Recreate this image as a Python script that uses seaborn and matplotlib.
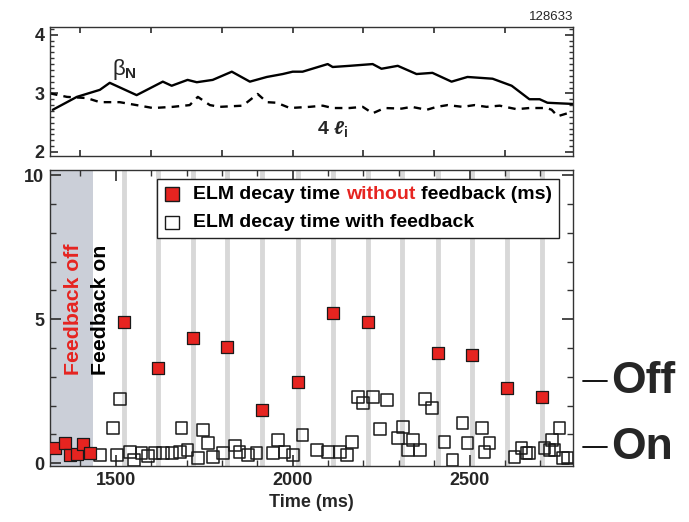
import numpy as np
import pandas as pd
import seaborn as sns
import matplotlib
matplotlib.use("Agg")
import matplotlib.pyplot as plt
from matplotlib.offsetbox import AnchoredOffsetbox, HPacker, VPacker, TextArea, DrawingArea
from matplotlib.patches import Rectangle
from matplotlib.ticker import MultipleLocator, FixedLocator
import matplotlib.transforms as mtransforms

# ---------------- data ----------------
shot_number = "128633"

beta_t = [1322, 1390, 1455, 1483, 1559, 1633, 1658, 1703, 1729, 1774, 1828, 1879, 1927,
          1972, 2000, 2028, 2099, 2113, 2161, 2226, 2251, 2297, 2350, 2395, 2449, 2494,
          2565, 2619, 2669, 2698, 2720, 2754, 2791]
beta_v = [2.72, 2.94, 3.06, 3.18, 2.97, 3.20, 3.13, 3.23, 3.19, 3.23, 3.37, 3.20, 3.28,
          3.33, 3.37, 3.37, 3.50, 3.45, 3.47, 3.50, 3.42, 3.47, 3.33, 3.35, 3.20, 3.28,
          3.25, 3.13, 2.90, 2.90, 2.84, 2.83, 2.82]

li_t = [1314, 1362, 1418, 1455, 1511, 1568, 1605, 1661, 1709, 1732, 1766, 1794, 1859,
        1901, 1927, 1955, 1992, 2048, 2085, 2113, 2161, 2198, 2226, 2260, 2308, 2336,
        2379, 2407, 2438, 2480, 2514, 2548, 2585, 2633, 2669, 2718, 2732, 2749, 2782]
li_v = [3.00, 2.94, 2.92, 2.85, 2.85, 2.79, 2.75, 2.77, 2.80, 2.94, 2.80, 2.77, 2.79,
        2.99, 2.85, 2.84, 2.75, 2.77, 2.79, 2.75, 2.75, 2.77, 2.66, 2.75, 2.74, 2.77,
        2.72, 2.77, 2.80, 2.77, 2.80, 2.77, 2.79, 2.73, 2.75, 2.75, 2.72, 2.61, 2.67]

# feedback-off windows (gray bars)
off_windows = [1522, 1620, 1718, 1815, 1913, 2015, 2113, 2212, 2310, 2410, 2508, 2606, 2705]
feedback_off_end = 1435

# ELM decay time without feedback (ms)
nofb_t = [1328, 1356, 1370, 1390, 1407, 1427,
          1522, 1620, 1718, 1815, 1913, 2015, 2113, 2212, 2410, 2508, 2606, 2705]
nofb_v = [0.52, 0.69, 0.28, 0.31, 0.66, 0.35,
          4.90, 3.30, 4.34, 4.03, 1.84, 2.81, 5.21, 4.90, 3.82, 3.75, 2.60, 2.29]

# ELM decay time with feedback
fb_t = [1455, 1492, 1503, 1511, 1540, 1551, 1573, 1590, 1610, 1633, 1658, 1681, 1686,
        1703, 1732, 1746, 1760, 1774, 1802, 1836, 1850, 1873, 1898, 1944, 1958, 1977,
        2000, 2028, 2068, 2099, 2133, 2153, 2167, 2184, 2198, 2226, 2246, 2266, 2297,
        2311, 2325, 2339, 2359, 2373, 2393, 2429, 2452, 2480, 2494, 2534, 2542, 2556,
        2627, 2647, 2661, 2669, 2712, 2726, 2734, 2740, 2754, 2763, 2777]
fb_v = [0.28, 1.22, 0.28, 2.22, 0.38, 0.10, 0.35, 0.24, 0.35, 0.35, 0.35, 0.38, 1.22,
        0.45, 0.17, 1.15, 0.69, 0.21, 0.35, 0.62, 0.38, 0.28, 0.35, 0.35, 0.80, 0.38,
        0.28, 0.97, 0.45, 0.38, 0.38, 0.28, 0.73, 2.29, 2.08, 2.29, 1.18, 2.19, 0.87,
        1.25, 0.45, 0.80, 0.45, 2.22, 1.91, 0.73, 0.10, 1.39, 0.69, 1.22, 0.38, 0.69,
        0.21, 0.52, 0.35, 0.35, 0.52, 0.45, 0.80, 0.45, 1.22, 0.17, 0.17]

level_labels = ["Off", "On"]
level_values = [2.85, 0.56]

x_ticklabels = [1500, 2000, 2500]

# ---------------- style ----------------
sns.set_theme(style="ticks")
plt.rcParams["font.family"] = ["Liberation Sans", "DejaVu Sans"]
plt.rcParams["font.weight"] = "bold"
plt.rcParams["mathtext.fontset"] = "custom"
plt.rcParams["mathtext.rm"] = "Liberation Sans:bold"
plt.rcParams["mathtext.it"] = "Liberation Sans:italic:bold"
plt.rcParams["mathtext.bf"] = "Liberation Sans:bold"

RED = "#e62420"
SPINE = "#333333"
BAR_GRAY = "#d8d8d8"
SHADE = "#cbcfd8"
XLIM = (1314, 2792)

fig = plt.figure(figsize=(6.89, 5.22), dpi=100)
ax_top = fig.add_axes([0.0725, 0.701, 0.759, 0.247])
ax = fig.add_axes([0.0725, 0.107, 0.759, 0.567])

for a in (ax_top, ax):
    for sp in a.spines.values():
        sp.set_color(SPINE)
        sp.set_linewidth(1.0)
    a.set_xlim(*XLIM)
    a.tick_params(which="both", direction="in", top=True, right=True, color=SPINE,
                  labelsize=13, pad=4)
    a.set_facecolor("white")

# ---------------- top panel ----------------
sns.lineplot(x=beta_t, y=beta_v, ax=ax_top, color="black", lw=1.7, sort=False,
             estimator=None)
sns.lineplot(x=li_t, y=li_v, ax=ax_top, color="black", lw=1.7, sort=False,
             estimator=None, linestyle=(0, (3.2, 2.6)))
ax_top.set_ylim(1.93, 4.13)
ax_top.yaxis.set_major_locator(FixedLocator([2, 3, 4]))
ax_top.yaxis.set_minor_locator(MultipleLocator(0.1))
ax_top.xaxis.set_major_locator(MultipleLocator(200))
ax_top.set_xticklabels([])
ax_top.tick_params(axis="y", which="major", length=6)
ax_top.tick_params(axis="y", which="minor", length=3)
ax_top.tick_params(axis="x", which="major", length=4)
ax_top.set_xlabel("")
ax_top.set_ylabel("")
ax_top.text(1508, 3.40, "β", fontsize=16, fontweight="normal", ha="center", va="center")
ax_top.text(1526, 3.33, "N", fontsize=11, fontweight="bold", ha="left", va="center")
ax_top.text(2113, 2.40, r"$4\ \ell_{\mathbf{i}}$", fontsize=14, ha="center", va="center")
ax_top.text(1.0, 1.03, shot_number, transform=ax_top.transAxes, ha="right", va="bottom",
            fontsize=9.5, fontweight="normal",
            family=["Liberation Sans Narrow", "Liberation Sans"])

# ---------------- bottom panel ----------------
ax.axvspan(XLIM[0], feedback_off_end, color=SHADE, lw=0, zorder=0)
for t in off_windows:
    ax.axvline(t, color=BAR_GRAY, lw=3.5, zorder=0.5)

sns.scatterplot(x=fb_t, y=fb_v, ax=ax, marker="s", s=72, facecolor="none",
                edgecolor="#1a1a1a", linewidth=1.1, zorder=3)
sns.scatterplot(x=nofb_t, y=nofb_v, ax=ax, marker="s", s=85, color=RED,
                edgecolor="#1a1a1a", linewidth=0.9, zorder=4)

ax.set_ylim(-0.1, 10.17)
ax.yaxis.set_major_locator(FixedLocator([0, 5, 10]))
ax.yaxis.set_minor_locator(MultipleLocator(1))
ax.xaxis.set_major_locator(FixedLocator(x_ticklabels))
ax.xaxis.set_minor_locator(MultipleLocator(100))
ax.set_xticklabels([str(v) for v in x_ticklabels])
ax.tick_params(which="major", length=8)
ax.tick_params(which="minor", length=4)
ax.set_xlabel("Time (ms)", fontsize=13, fontweight="bold", labelpad=4)
ax.set_ylabel("")

ax.text(1381, 3.05, "Feedback off", rotation=90, color=RED, fontsize=15.3,
        ha="center", va="bottom")
ax.text(1458, 3.05, "Feedback on", rotation=90, color="black", fontsize=15.3,
        ha="center", va="bottom")

# legend with partly coloured text
def marker_box(fc):
    da = DrawingArea(12, 12, 0, 0)
    da.add_artist(Rectangle((1, 1), 10, 10, fc=fc, ec="#1a1a1a", lw=1.0))
    return da

tp = dict(fontsize=14, color="black", fontweight="bold")
tpr = dict(fontsize=14, color=RED, fontweight="bold")
row1 = HPacker(children=[marker_box(RED),
                         HPacker(children=[TextArea("ELM decay time", textprops=tp),
                                           TextArea("without", textprops=tpr),
                                           TextArea("feedback (ms)", textprops=tp)],
                                 sep=4.0, pad=0, align="baseline")],
               sep=9, pad=0, align="center")
row2 = HPacker(children=[marker_box("white"),
                         TextArea("ELM decay time with feedback", textprops=tp)],
               sep=9, pad=0, align="center")
box = VPacker(children=[row1, row2], sep=8, pad=0, align="left")
leg = AnchoredOffsetbox(loc="upper left", child=box, pad=0.45, borderpad=0,
                        frameon=True, bbox_to_anchor=(0.205, 0.97),
                        bbox_transform=ax.transAxes)
leg.patch.set_boxstyle("square", pad=0)
leg.patch.set_edgecolor("#222222")
leg.patch.set_linewidth(1.0)
leg.set_zorder(10)
ax.add_artist(leg)

# Off / On level markers outside the axes
trans = mtransforms.blended_transform_factory(ax.transAxes, ax.transData)
for lab, val in zip(level_labels, level_values):
    ax.plot([1.019, 1.065], [val, val], color="black", lw=1.3, transform=trans,
            clip_on=False)
    ax.text(1.073, val, lab, transform=trans, fontsize=32, fontweight="bold",
            ha="left", va="center")

fig.savefig("out.png", dpi=100)
